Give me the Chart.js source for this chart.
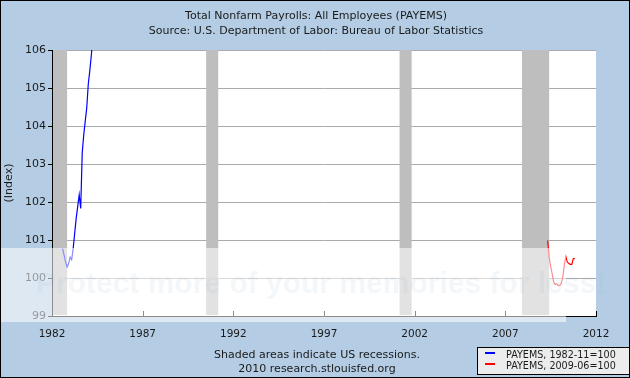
<!DOCTYPE html>
<html>
<head>
<meta charset="utf-8">
<script src="https://cdn.jsdelivr.net/npm/chart.js@4/dist/chart.umd.min.js"></script>
<style>
  html, body { margin: 0; padding: 0; background: #b4cde4; }
  canvas { display: block; }
</style>
</head>
<body>
<canvas id="chart" width="630" height="378"></canvas>
<script>
// PAYEMS indexed to 1982-11 (blue) and 2009-06 (red)
const blueMonths = ['1982-08', '1982-09', '1982-10', '1982-11', '1982-12', '1983-01', '1983-02',
    '1983-03', '1983-04', '1983-05', '1983-06', '1983-07', '1983-08', '1983-09', '1983-10',
    '1983-11', '1983-12', '1984-01', '1984-02', '1984-03', '1984-04'];
const blueValues = [100.77, 100.6, 100.42, 100.29, 100.38, 100.55, 100.48,
    100.77, 101.17, 101.57, 101.88, 102.19, 101.83, 103.29, 103.77,
    104.13, 104.48, 105.1, 105.45, 105.85, 106.35];

const redMonths = ['2009-05', '2009-06', '2009-07', '2009-08', '2009-09', '2009-10', '2009-11',
    '2009-12', '2010-01', '2010-02', '2010-03', '2010-04', '2010-05', '2010-06', '2010-07',
    '2010-08', '2010-09', '2010-10', '2010-11'];
const redValues = [100.99, 100.55, 100.29, 100.11, 99.89, 99.83, 99.85,
    99.8, 99.8, 99.86, 100.02, 100.33, 100.57, 100.42, 100.38,
    100.36, 100.36, 100.51, 100.51];

const recessionStarts = ['1981-07', '1990-07', '2001-03', '2007-12'];
const recessionEnds = ['1982-11', '1991-03', '2001-11', '2009-06'];

const xTickYears = [1982, 1987, 1992, 1997, 2002, 2007, 2012];
const yTicks = [99, 100, 101, 102, 103, 104, 105, 106];

const seriesLabels = ['PAYEMS, 1982-11=100', 'PAYEMS, 2009-06=100'];
const titleLines = ['Total Nonfarm Payrolls: All Employees (PAYEMS)',
    'Source: U.S. Department of Labor: Bureau of Labor Statistics'];
const footerLines = ['Shaded areas indicate US recessions.', '2010 research.stlouisfed.org'];

function toYear(s) {
    const [y, m] = s.split('-').map(Number);
    return y + (m - 1) / 12;
}

function points(months, values) {
    return months.map((m, i) => ({ x: toYear(m), y: values[i] }));
}

const FONT = "'DejaVu Sans', Verdana, sans-serif";

const fredFrame = {
    id: 'fredFrame',
    beforeDraw(chart) {
        const { ctx, chartArea: a } = chart;
        ctx.save();
        ctx.fillStyle = '#b4cde4';
        ctx.fillRect(0, 0, chart.width, chart.height);
        ctx.fillStyle = '#ffffff';
        ctx.fillRect(a.left, a.top, a.right - a.left, a.bottom - a.top);
        ctx.restore();
    },
    beforeDatasetsDraw(chart) {
        const { ctx, chartArea: a, scales: { x } } = chart;
        ctx.save();
        ctx.fillStyle = '#bebebe';
        for (let i = 0; i < recessionStarts.length; i++) {
            const x0 = Math.max(x.getPixelForValue(toYear(recessionStarts[i])), a.left + 1);
            const x1 = Math.min(x.getPixelForValue(toYear(recessionEnds[i])), a.right);
            if (x1 <= x0) continue;
            ctx.fillRect(x0, a.top, x1 - x0, a.bottom - a.top - 1);
        }
        ctx.restore();
    },
    afterDatasetsDraw(chart) {
        // tick marks point into the plot on the x axis
        const { ctx, chartArea: a, scales: { x } } = chart;
        ctx.save();
        ctx.strokeStyle = '#000';
        ctx.lineWidth = 1;
        for (const yr of xTickYears) {
            const px = Math.round(x.getPixelForValue(yr)) + 0.5;
            ctx.beginPath();
            ctx.moveTo(px, a.bottom);
            ctx.lineTo(px, a.bottom - 5);
            ctx.stroke();
        }
        ctx.restore();
    },
    afterDraw(chart) {
        const ctx = chart.ctx;
        ctx.save();

        // photo-host watermark band
        ctx.fillStyle = 'rgba(255,255,255,0.55)';
        ctx.fillRect(0, 248, 566, 74);
        ctx.fillStyle = 'rgba(150,180,210,0.1)';
        ctx.font = "bold 30px 'Liberation Sans', sans-serif";
        ctx.textAlign = 'left';
        ctx.textBaseline = 'middle';
        ctx.fillText('Protect more of your memories for less!', 36, 285);

        ctx.fillStyle = '#1a1a1a';
        ctx.textAlign = 'center';
        ctx.font = '11px ' + FONT;
        ctx.fillText(titleLines[0], 316, 16);
        ctx.fillText(titleLines[1], 316, 31);
        ctx.fillText(footerLines[0], 317, 355);
        ctx.fillText(footerLines[1], 317, 369);

        // legend box
        ctx.fillStyle = '#ececec';
        ctx.fillRect(477, 347, 152, 27);
        ctx.strokeStyle = '#000';
        ctx.lineWidth = 1;
        ctx.strokeRect(477.5, 347.5, 152, 27);
        const colors = ['#0000ff', '#ff0000'];
        ctx.font = '9.6px ' + FONT;
        ctx.textAlign = 'left';
        seriesLabels.forEach((label, i) => {
            const y = 354 + i * 11;
            ctx.fillStyle = colors[i];
            ctx.fillRect(485, y - 2, 10, 2);
            ctx.fillStyle = '#1a1a1a';
            ctx.fillText(label, 506, y + 1);
        });

        // outer frame
        ctx.strokeStyle = '#000';
        ctx.strokeRect(0.5, 0.5, chart.width - 1, chart.height - 1);
        ctx.restore();
    }
};

new Chart(document.getElementById('chart'), {
    type: 'line',
    data: {
        datasets: [
            { label: seriesLabels[0], data: points(blueMonths, blueValues),
              borderColor: '#0000ff', borderWidth: 1.2, pointRadius: 0, tension: 0 },
            { label: seriesLabels[1], data: points(redMonths, redValues),
              borderColor: '#ff0000', borderWidth: 1.2, pointRadius: 0, tension: 0 }
        ]
    },
    options: {
        responsive: false,
        animation: false,
        devicePixelRatio: 1,
        layout: { padding: { top: 50, right: 34, left: 0, bottom: 0 } },
        plugins: {
            legend: { display: false },
            title: { display: false },
            tooltip: { enabled: false }
        },
        scales: {
            x: {
                type: 'linear',
                min: 1982,
                max: 2012,
                afterFit: s => { s.height = 62; },
                afterBuildTicks: s => { s.ticks = xTickYears.map(v => ({ value: v })); },
                grid: { display: true, drawOnChartArea: false, drawTicks: false },
                border: { color: '#000', width: 1 },
                ticks: {
                    color: '#1a1a1a',
                    font: { family: FONT, size: 10.5 },
                    padding: 12,
                    maxRotation: 0,
                    autoSkip: false,
                    callback: v => String(v)
                }
            },
            y: {
                min: 99,
                max: 106,
                afterFit: s => { s.width = 52; },
                afterBuildTicks: s => { s.ticks = yTicks.map(v => ({ value: v })); },
                grid: { color: '#aaaaaa', tickColor: '#000', tickLength: 4 },
                border: { color: '#000', width: 1 },
                ticks: {
                    color: '#1a1a1a',
                    font: { family: FONT, size: 11 },
                    padding: 2
                },
                title: {
                    display: true,
                    text: '(Index)',
                    color: '#1a1a1a',
                    font: { family: FONT, size: 11 },
                    padding: { top: 3, bottom: 0 }
                }
            }
        }
    },
    plugins: [fredFrame]
});
</script>
</body>
</html>
